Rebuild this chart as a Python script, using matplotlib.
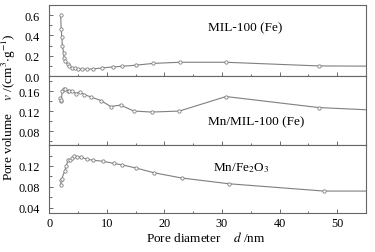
import matplotlib
matplotlib.use("Agg")
import matplotlib.pyplot as plt
from matplotlib.ticker import MultipleLocator, FormatStrFormatter

plt.rcParams['font.family'] = ['Liberation Serif', 'DejaVu Serif']
plt.rcParams['mathtext.fontset'] = 'stix'

# MIL-100 (Fe)
x_mil = [2.0, 2.1, 2.2, 2.3, 2.5, 2.6, 2.8, 3.2, 3.5, 4.0, 4.5, 5.0, 5.7, 6.5, 7.6, 9.2, 11.0, 12.6, 15.0, 18.1, 22.7, 30.7, 46.8, 58.0]
y_mil = [0.60, 0.46, 0.39, 0.30, 0.23, 0.18, 0.145, 0.12, 0.095, 0.082, 0.075, 0.070, 0.068, 0.068, 0.070, 0.080, 0.090, 0.096, 0.107, 0.125, 0.136, 0.136, 0.100, 0.097]

# Mn/MIL-100 (Fe)
x_mnmil = [1.9, 2.0, 2.1, 2.3, 2.5, 2.8, 3.2, 3.5, 4.0, 4.6, 5.3, 6.1, 7.3, 9.0, 10.7, 12.4, 14.7, 17.8, 22.6, 30.7, 46.8, 58.0]
y_mnmil = [0.147, 0.140, 0.143, 0.160, 0.165, 0.164, 0.161, 0.161, 0.160, 0.155, 0.158, 0.153, 0.148, 0.141, 0.129, 0.132, 0.120, 0.118, 0.120, 0.149, 0.127, 0.121]

# Mn/Fe2O3
x_fe = [2.0, 2.1, 2.2, 2.7, 2.95, 3.3, 3.6, 4.0, 4.3, 4.9, 5.6, 6.5, 7.6, 9.3, 11.2, 12.7, 15.1, 18.2, 23.0, 31.2, 47.7, 58.0]
y_fe = [0.084, 0.093, 0.096, 0.110, 0.120, 0.131, 0.131, 0.135, 0.140, 0.137, 0.137, 0.133, 0.131, 0.129, 0.125, 0.122, 0.116, 0.107, 0.097, 0.086, 0.072, 0.072]

labels = ['MIL-100 (Fe)', 'Mn/MIL-100 (Fe)', r'Mn/Fe$_2$O$_3$']
ylims = [(0.0, 0.7), (0.052, 0.19), (0.03, 0.16)]
yticks = [[0.0, 0.2, 0.4, 0.6], [0.08, 0.12, 0.16], [0.04, 0.08, 0.12]]
yminor = [0.1, 0.02, 0.02]
yfmt = ['%.1f', '%.2f', '%.2f']
label_pos = [(27.6, 0.48), (27.6, 0.10), (28.5, 0.118)]

fs = 9.5
fig = plt.figure(figsize=(3.75, 2.53), dpi=100)
gs = fig.add_gridspec(3, 1, left=0.131, right=0.976, top=0.976, bottom=0.154,
                      hspace=0, height_ratios=[71, 69, 68])

data = [(x_mil, y_mil), (x_mnmil, y_mnmil), (x_fe, y_fe)]
line_c = '#7f7f7f'
for i in range(3):
	ax = fig.add_subplot(gs[i])
	xs, ys = data[i]
	ax.plot(xs, ys, color=line_c, lw=0.8, marker='o', ms=2.4, mfc='white',
	        mec=line_c, mew=0.6)
	ax.set_xlim(0, 55)
	ax.set_ylim(*ylims[i])
	ax.xaxis.set_major_locator(MultipleLocator(10))
	ax.xaxis.set_minor_locator(MultipleLocator(5))
	ax.set_yticks(yticks[i])
	ax.yaxis.set_minor_locator(MultipleLocator(yminor[i]))
	ax.yaxis.set_major_formatter(FormatStrFormatter(yfmt[i]))
	ax.tick_params(which='both', direction='in', labelsize=8.8, color='#555555', width=0.6)
	ax.tick_params(axis='y', pad=6.5)
	ax.tick_params(axis='x', pad=3)
	ax.tick_params(which='major', length=3)
	ax.tick_params(which='minor', length=1.8)
	for s in ax.spines.values():
		s.set_color('#666666')
		s.set_linewidth(0.8)
	if i < 2:
		ax.tick_params(labelbottom=False)
	ax.text(label_pos[i][0], label_pos[i][1], labels[i], fontsize=fs, va='center', ha='left')

fig.text(9/375, 1-107/253, r'Pore volume    $v$ /(cm$^3$$\cdot$g$^{-1}$)', rotation=90,
         ha='center', va='center', fontsize=fs)
fig.text(206/375, 1-238/253, r'Pore diameter    $d$ /nm', ha='center', va='center', fontsize=fs)

fig.savefig('out.png', dpi=100)
